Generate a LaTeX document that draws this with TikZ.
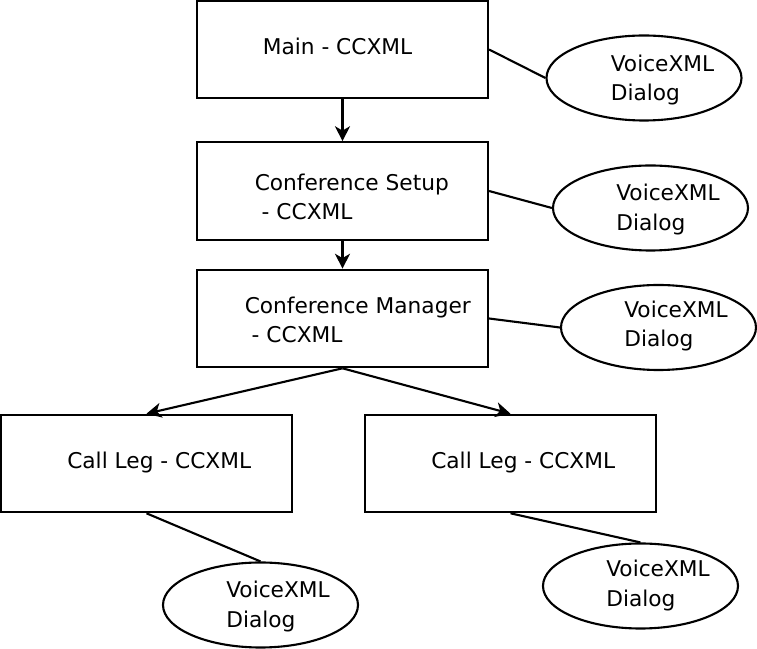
\documentclass[tikz,border=0pt]{standalone}
\usepackage{fontspec}
\setmainfont{DejaVu Sans}
\usetikzlibrary{shapes,arrows.meta,positioning}

\begin{document}
\begin{tikzpicture}[
    ccxmlbox/.style={rectangle, minimum width=5.82cm, minimum height=1.95cm, draw=black, line width=1.2pt},
    dialogbox/.style={ellipse, minimum width=3.9cm, minimum height=1.7cm, draw=black, line width=1.2pt},
    lbl/.style={anchor=base west, inner sep=0pt, align=left, font=\fontsize{12.35pt}{17pt}\selectfont},
    arrow/.style={line width=1.2pt,-{Stealth[length=8.5pt,width=8.5pt,inset=2.5pt]}},
    link/.style={line width=1.2pt}
]
\useasboundingbox (0,0) rectangle (15.14,12.98);

% CCXML documents
\node[ccxmlbox] (main) at (6.85,11.99) {};
\node[ccxmlbox] (setup) at (6.85,9.16) {};
\node[ccxmlbox] (manager) at (6.85,6.61) {};
\node[ccxmlbox] (legL) at (2.93,3.71) {};
\node[ccxmlbox] (legR) at (10.21,3.71) {};

% (base of a two-line label is its last line)
\node[lbl] (main-txt) at ([xshift=1.33cm,yshift=-0.11cm]main.west) {Main - CCXML};
\node[lbl] (setup-txt) at ([xshift=1.17cm,yshift=-0.58cm]setup.west) {Conference Setup\\\hspace*{0.32em}- CCXML};
\node[lbl] (manager-txt) at ([xshift=0.97cm,yshift=-0.49cm]manager.west) {Conference Manager\\\hspace*{0.32em}- CCXML};
\node[lbl] (legL-txt) at ([xshift=1.34cm,yshift=-0.11cm]legL.west) {Call Leg - CCXML};
\node[lbl] (legR-txt) at ([xshift=1.34cm,yshift=-0.11cm]legR.west) {Call Leg - CCXML};

% VoiceXML dialogs
\node[dialogbox] (dlg1) at (12.88,11.42) {};
\node[dialogbox] (dlg2) at (13.01,8.82) {};
\node[dialogbox] (dlg3) at (13.17,6.43) {};
\node[dialogbox] (dlg4) at (5.21,0.88) {};
\node[dialogbox] (dlg5) at (12.81,1.26) {};

\node[lbl] (dlg1-txt) at ([xshift=1.30cm,yshift=-0.46cm]dlg1.west) {VoiceXML\\Dialog};
\node[lbl] (dlg2-txt) at ([xshift=1.28cm,yshift=-0.45cm]dlg2.west) {VoiceXML\\Dialog};
\node[lbl] (dlg3-txt) at ([xshift=1.28cm,yshift=-0.39cm]dlg3.west) {VoiceXML\\Dialog};
\node[lbl] (dlg4-txt) at ([xshift=1.28cm,yshift=-0.45cm]dlg4.west) {VoiceXML\\Dialog};
\node[lbl] (dlg5-txt) at ([xshift=1.28cm,yshift=-0.41cm]dlg5.west) {VoiceXML\\Dialog};

% Arrows
\draw[arrow] (main) -- (setup);
\draw[arrow] (setup) -- (manager);
\draw[arrow] (manager.south) -- (legL.north);
\draw[arrow] (manager.south) -- (legR.north);

% Dialog links
\draw[link] (main.east) -- (dlg1.west);
\draw[link] (setup.east) -- (dlg2.west);
\draw[link] (manager.east) -- (dlg3.west);
\draw[link] (legL.south) -- (dlg4.north);
\draw[link] (legR.south) -- (dlg5.north);

\end{tikzpicture}
\end{document}
